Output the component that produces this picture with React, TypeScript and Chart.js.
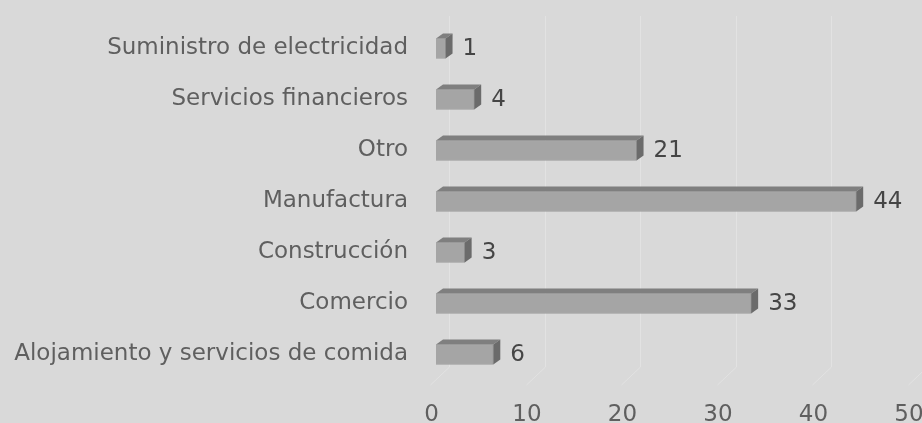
import { useEffect, useRef } from "react";
import { Chart, registerables } from "chart.js";

Chart.register(...registerables);

const categories = [
  "Suministro de electricidad",
  "Servicios financieros",
  "Otro",
  "Manufactura",
  "Construcción",
  "Comercio",
  "Alojamiento y servicios de comida",
];
const values = [1, 4, 21, 44, 3, 33, 6];
const xTickValues = [0, 10, 20, 30, 40, 50];

const FONT_FAMILY = "'DejaVu Sans', sans-serif";
const DEPTH_X = 7;
const DEPTH_Y = 5;

const depthPlugin = {
  id: "depth3d",
  beforeDatasetsDraw(chart: any) {
    const ctx = chart.ctx;
    const xs = chart.scales.x;
    const area = chart.chartArea;
    ctx.save();
    ctx.strokeStyle = "#e2e2e2";
    ctx.lineWidth = 1;
    for (const v of xTickValues) {
      const x = Math.round(xs.getPixelForValue(v)) + 0.5;
      ctx.beginPath();
      ctx.moveTo(x + 13, area.top - 7);
      ctx.lineTo(x + 13, area.bottom - 13);
      ctx.lineTo(x - 6, area.bottom + 5);
      ctx.stroke();
    }
    ctx.restore();
  },
  afterDatasetsDraw(chart: any) {
    const ctx = chart.ctx;
    const meta = chart.getDatasetMeta(0);
    ctx.save();
    meta.data.forEach((bar: any, i: number) => {
      const { x, y, base, height } = bar.getProps(["x", "y", "base", "height"], true);
      const top = y - height / 2;
      const bottom = y + height / 2;
      ctx.fillStyle = "#7f7f7f";
      ctx.beginPath();
      ctx.moveTo(base, top);
      ctx.lineTo(x, top);
      ctx.lineTo(x + DEPTH_X, top - DEPTH_Y);
      ctx.lineTo(base + DEPTH_X, top - DEPTH_Y);
      ctx.closePath();
      ctx.fill();
      ctx.fillStyle = "#6b6b6b";
      ctx.beginPath();
      ctx.moveTo(x, top);
      ctx.lineTo(x + DEPTH_X, top - DEPTH_Y);
      ctx.lineTo(x + DEPTH_X, bottom - DEPTH_Y);
      ctx.lineTo(x, bottom);
      ctx.closePath();
      ctx.fill();
      ctx.fillStyle = "#454545";
      ctx.font = `23px ${FONT_FAMILY}`;
      ctx.textAlign = "left";
      ctx.textBaseline = "middle";
      ctx.fillText(String(values[i]), x + 17, y + 1);
    });
    ctx.restore();
  },
};

export default function App() {
  const canvasRef = useRef<HTMLCanvasElement | null>(null);

  useEffect(() => {
    if (!canvasRef.current) return;
    const chart = new Chart(canvasRef.current, {
      type: "bar",
      data: {
        labels: categories,
        datasets: [
          {
            data: values,
            backgroundColor: "#a5a5a5",
            borderColor: "#9c9c9c",
            borderWidth: 1,
            barThickness: 20,
          },
        ],
      },
      options: {
        indexAxis: "y",
        responsive: true,
        maintainAspectRatio: false,
        animation: false,
        layout: { padding: { top: 23, right: 8.5, left: 0, bottom: 0 } },
        plugins: {
          legend: { display: false },
          tooltip: { enabled: false },
        },
        scales: {
          x: {
            min: 0,
            max: 50,
            ticks: {
              stepSize: 10,
              color: "#5f5f5f",
              font: { family: FONT_FAMILY, size: 23 },
              padding: 13,
              labelOffset: -4.5,
            },
            grid: { display: false },
            border: { display: false },
            afterFit(s: any) {
              s.height = 43;
              s.paddingLeft = 0;
              s.paddingRight = 0;
            },
          },
          y: {
            ticks: {
              color: "#5f5f5f",
              font: { family: FONT_FAMILY, size: 23 },
              padding: 28,
            },
            grid: { display: false, drawTicks: false },
            border: { display: false },
            afterFit(s: any) {
              s.width = 436;
              s.paddingTop = 0;
              s.paddingBottom = 0;
            },
          },
        },
      },
      plugins: [depthPlugin],
    });
    return () => chart.destroy();
  }, []);

  return (
    <div
      style={{
        position: "absolute",
        left: 0,
        top: 0,
        width: 922,
        height: 423,
        background: "#d9d9d9",
        overflow: "hidden",
      }}
    >
      <canvas ref={canvasRef} />
    </div>
  );
}
